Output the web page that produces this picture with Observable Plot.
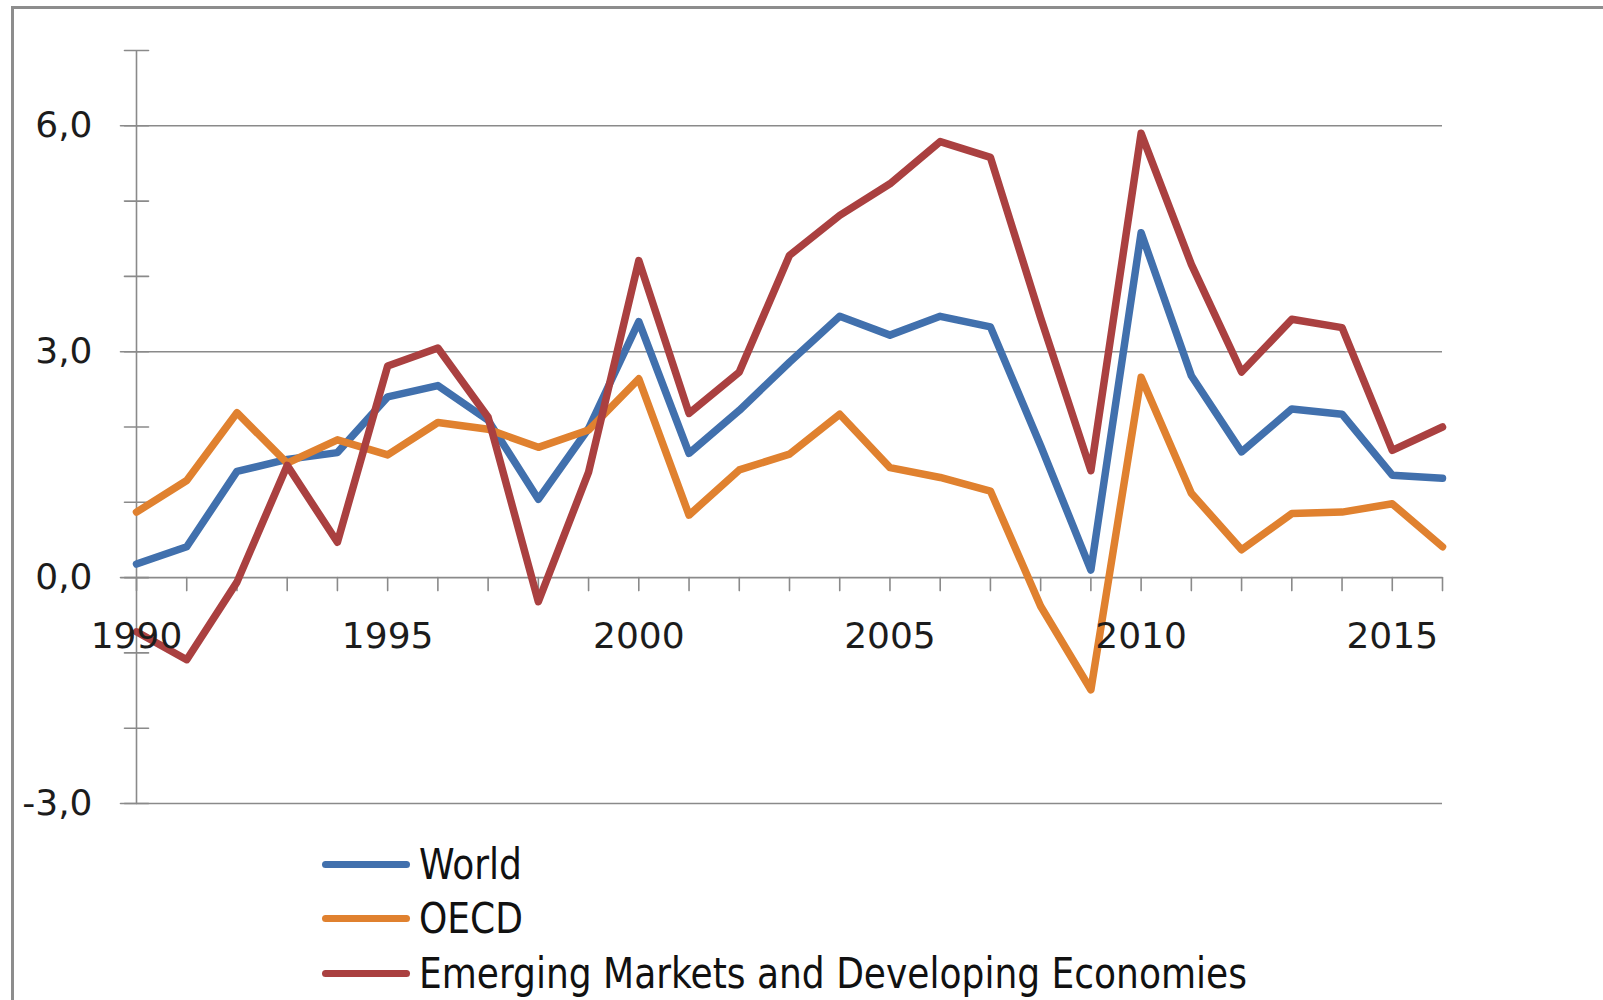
<!DOCTYPE html>
<html>
<head>
<meta charset="utf-8">
<script src="https://cdn.jsdelivr.net/npm/d3@7"></script>
<script src="https://cdn.jsdelivr.net/npm/@observablehq/plot@0.6"></script>
<style>
  html, body { margin: 0; padding: 0; background: #fff; }
  #wrap { position: relative; width: 1603px; height: 1000px; overflow: hidden; background: #fff; }
  #frame { position: absolute; left: 11px; top: 6px; right: -10px; bottom: -10px;
           border-left: 3px solid #8d8d8d; border-top: 3px solid #8d8d8d; }
  #chart { position: absolute; left: 0; top: 0; }
  .leg { position: absolute; left: 322px; height: 50px; display: flex; align-items: center; }
  .leg .sw { width: 88px; height: 7px; border-radius: 4px; flex: none; }
  .leg .lb { margin-left: 9px; font-family: "Liberation Sans Narrow", "DejaVu Sans Condensed", sans-serif;
             font-size: 43px; color: #111; white-space: nowrap; display: inline-block;
             transform-origin: 0 50%; }
</style>
</head>
<body>
<div id="wrap">
  <div id="frame"></div>
  <div id="chart"></div>
  <div id="legend"></div>
</div>
<script>
// ---- data ----
const years = [1990, 1991, 1992, 1993, 1994, 1995, 1996, 1997, 1998, 1999,
               2000, 2001, 2002, 2003, 2004, 2005, 2006, 2007, 2008, 2009,
               2010, 2011, 2012, 2013, 2014, 2015, 2016];
const world = [0.18, 0.41, 1.41, 1.57, 1.66, 2.40, 2.55, 2.09, 1.04, 1.98,
               3.40, 1.65, 2.22, 2.86, 3.47, 3.22, 3.47, 3.33, 1.75, 0.10,
               4.58, 2.68, 1.67, 2.24, 2.17, 1.36, 1.32];
const oecd  = [0.87, 1.29, 2.19, 1.52, 1.83, 1.63, 2.06, 1.97, 1.73, 1.96,
               2.64, 0.83, 1.43, 1.64, 2.17, 1.46, 1.33, 1.15, -0.38, -1.49,
               2.66, 1.12, 0.37, 0.85, 0.87, 0.98, 0.41];
const emde  = [-0.72, -1.09, -0.06, 1.49, 0.47, 2.81, 3.05, 2.13, -0.32, 1.40,
               4.21, 2.18, 2.73, 4.28, 4.81, 5.23, 5.79, 5.58, 3.45, 1.42,
               5.90, 4.16, 2.73, 3.43, 3.32, 1.69, 2.00];
const seriesNames = ["World", "OECD", "Emerging Markets and Developing Economies"];
const seriesColors = ["#4170ad", "#e0812f", "#aa4040"];
const xTickLabels = [1990, 1995, 2000, 2005, 2010, 2015];
const yMajorTicks = [-3, 0, 3, 6];
const yMinorTicks = [-3, -2, -1, 0, 1, 2, 3, 4, 5, 6, 7];
const yGridLines = [-3, 3, 6];

// ---- build ----
const seriesValues = [world, oecd, emde];
const data = [];
seriesNames.forEach((name, s) => {
  years.forEach((yr, i) => data.push({year: yr, series: name, value: seriesValues[s][i]}));
});

const gridColor = "#8a8a8a";
const textColor = "#1c1c1c";
const lineShape = { draw(context, l) { context.moveTo(0, 0); context.lineTo(0, -l); } };
const fmt = d => d.toFixed(1).replace(".", ",");

const chart = Plot.plot({
  width: 1603,
  height: 830,
  marginLeft: 136,
  marginRight: 161,
  marginTop: 50,
  marginBottom: 27,
  x: {domain: [1990, 2016], axis: null},
  y: {domain: [-3, 7], axis: null},
  color: {domain: seriesNames, range: seriesColors},
  style: {fontFamily: "'DejaVu Sans', Verdana, sans-serif", background: "transparent", overflow: "visible"},
  marks: [
    Plot.ruleY(yGridLines, {stroke: gridColor, strokeWidth: 1.6}),
    Plot.ruleY([0], {stroke: gridColor, strokeWidth: 1.6}),
    Plot.ruleX([1990], {stroke: gridColor, strokeWidth: 1.6}),
    Plot.vector(years, {x: d => d, y: () => 0, length: 13, rotate: 180, anchor: "start",
                        shape: lineShape, stroke: gridColor, strokeWidth: 1.6}),
    Plot.vector(yMinorTicks, {x: () => 1990, y: d => d, length: 24, rotate: 90, anchor: "middle",
                              shape: lineShape, stroke: gridColor, strokeWidth: 1.6}),
    Plot.vector(yMajorTicks, {x: () => 1990, y: d => d, length: 16, rotate: -90, anchor: "start",
                              shape: lineShape, stroke: gridColor, strokeWidth: 1.6}),
    Plot.line(data, {x: "year", y: "value", z: "series", stroke: "series",
                     strokeWidth: 7.5, strokeLinejoin: "round", strokeLinecap: "round"}),
    Plot.text(xTickLabels, {x: d => d, y: () => 0, dy: 59, text: d => String(d),
                            fontSize: 36, fill: textColor, textAnchor: "middle"}),
    Plot.text(yMajorTicks, {x: () => 1990, y: d => d, dx: -44, text: fmt,
                            fontSize: 36, fill: textColor, textAnchor: "end"})
  ]
});
document.getElementById("chart").appendChild(chart);

// ---- legend ----
const legendCenters = [864, 918, 973];
const legend = document.getElementById("legend");
const labels = [];
seriesNames.forEach((name, i) => {
  const item = document.createElement("div");
  item.className = "leg";
  item.style.top = (legendCenters[i] - 25) + "px";
  const sw = document.createElement("div");
  sw.className = "sw";
  sw.style.background = seriesColors[i];
  const lb = document.createElement("span");
  lb.className = "lb";
  lb.textContent = name;
  item.appendChild(sw);
  item.appendChild(lb);
  legend.appendChild(item);
  labels.push(lb);
});
// fit the longest label to the reference width
const longest = labels[2].getBoundingClientRect().width;
const k = 828 / longest;
labels.forEach(lb => { lb.style.transform = `scaleX(${k})`; });
</script>
</body>
</html>
